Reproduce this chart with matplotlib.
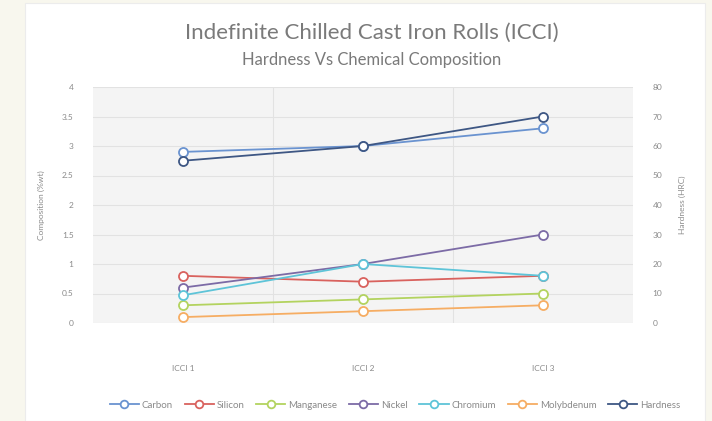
import matplotlib.pyplot as plt
from matplotlib.patches import Rectangle

# ---------------- DATA ----------------
categories = ["ICCI 1", "ICCI 2", "ICCI 3"]
carbon = [2.9, 3.0, 3.3]
silicon = [0.8, 0.7, 0.8]
manganese = [0.3, 0.4, 0.5]
nickel = [0.6, 1.0, 1.5]
chromium = [0.47, 1.0, 0.8]
molybdenum = [0.1, 0.2, 0.3]
hardness = [55, 60, 70]

left_ticks = [0, 0.5, 1, 1.5, 2, 2.5, 3, 3.5, 4]
left_labels = ["0", "0.5", "1", "1.5", "2", "2.5", "3", "3.5", "4"]
right_ticks = [0, 10, 20, 30, 40, 50, 60, 70, 80]

series = [
    ("Carbon", carbon, "#6a93d0"),
    ("Silicon", silicon, "#d9625e"),
    ("Manganese", manganese, "#b3d35f"),
    ("Nickel", nickel, "#7c6ba6"),
    ("Chromium", chromium, "#5ec4d8"),
    ("Molybdenum", molybdenum, "#f6ad63"),
]
hard_color = "#3e5784"

plt.rcParams['font.family'] = ['Lato', 'DejaVu Sans']
txt = "#8a8a8a"

fig = plt.figure(figsize=(7.12, 4.21), dpi=100)
fig.patch.set_facecolor("#f8f7ee")
# white card behind everything
card = Rectangle((25 / 712, 0), 680 / 712, 418 / 421,
                 transform=fig.transFigure, facecolor="white",
                 edgecolor="#ececec", lw=0.8, zorder=-10)
fig.patches.append(card)

ax = fig.add_axes([93 / 712, 1 - 323 / 421, 540 / 712, 236 / 421])
ax.set_facecolor("#f4f4f4")
x = list(range(len(categories)))

handles = []
for name, vals, col in series:
    h, = ax.plot(x, vals, color=col, lw=1.3, marker="o", ms=6.5,
                 mfc="white", mec=col, mew=1.3, label=name, zorder=3)
    handles.append(h)

ax.set_xlim(-0.5, 2.5)
ax.set_ylim(0, 4)
ax.set_xticks(x)
ax.set_xticklabels(categories)
ax.set_xticks([0.5, 1.5], minor=True)
ax.set_yticks(left_ticks)
ax.set_yticklabels(left_labels)
ax.grid(True, axis="y", color="#e2e2e2", lw=0.8)
ax.grid(True, axis="x", which="minor", color="#e2e2e2", lw=0.8)
ax.tick_params(axis="both", which="both", length=0, colors=txt, labelsize=6)
ax.tick_params(axis="x", pad=30)
ax.tick_params(axis="y", pad=14)
for s in ax.spines.values():
    s.set_visible(False)
ax.set_ylabel("Composition (%wt)", fontsize=6, color=txt, labelpad=12)

ax2 = ax.twinx()
h2, = ax2.plot(x, hardness, color=hard_color, lw=1.3, marker="o", ms=6.5,
               mfc="white", mec=hard_color, mew=1.3, label="Hardness", zorder=3)
handles.append(h2)
ax2.set_ylim(0, 80)
ax2.set_yticks(right_ticks)
ax2.tick_params(axis="y", length=0, colors=txt, labelsize=6, pad=14)
for s in ax2.spines.values():
    s.set_visible(False)
ax2.set_ylabel("Hardness (HRC)", fontsize=6, color=txt, labelpad=12)

fig.text(372 / 712, 1 - 33 / 421, "Indefinite Chilled Cast Iron Rolls (ICCI)",
         ha="center", va="center", fontsize=16, color="#7a7a7a")
fig.text(372 / 712, 1 - 60 / 421, "Hardness Vs Chemical Composition",
         ha="center", va="center", fontsize=12, color="#7a7a7a")

fig.legend(handles=handles, labels=[h.get_label() for h in handles],
           loc="center", bbox_to_anchor=(395 / 712, 1 - 405 / 421),
           ncol=7, frameon=False, fontsize=7, labelcolor=txt,
           handlelength=3.0, handletextpad=0.3, columnspacing=1.2,
           markerscale=0.85)

fig.savefig("out.png", dpi=100, facecolor=fig.get_facecolor())
